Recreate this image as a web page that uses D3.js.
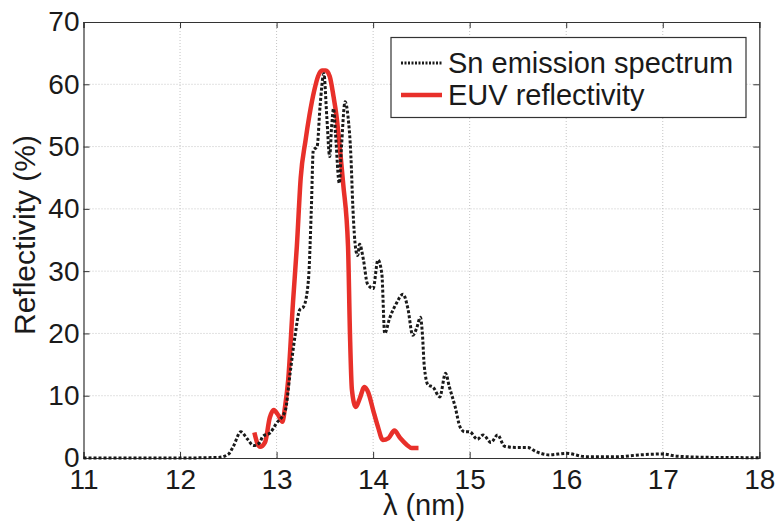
<!DOCTYPE html>
<html>
<head>
<meta charset="utf-8">
<script src="https://cdn.jsdelivr.net/npm/d3@7"></script>
<style>
  body { margin: 0; background: #fff; }
  text { font-family: "Liberation Sans", Arial, Helvetica, sans-serif; fill: #1a1a1a; }
</style>
</head>
<body>
<div id="chart"></div>
<script>
// Sn emission spectrum (dotted black), wavelength in nm / relative %
const snLambda = [11.0, 12.0, 12.4, 12.5, 12.55, 12.63, 12.7, 12.76, 12.82, 12.86, 12.93, 13.0, 13.09, 13.14, 13.19,
  13.24, 13.28, 13.33, 13.36, 13.38, 13.42, 13.45, 13.49, 13.52, 13.55, 13.57, 13.59, 13.61, 13.65, 13.67, 13.71,
  13.74, 13.77, 13.79, 13.82, 13.84, 13.86, 13.9, 13.94, 14.0, 14.05, 14.09, 14.12, 14.17, 14.24, 14.31, 14.36,
  14.41, 14.45, 14.49, 14.51, 14.53, 14.57, 14.62, 14.69, 14.75, 14.79, 14.85, 14.9, 14.95, 15.0, 15.08, 15.14,
  15.22, 15.29, 15.36, 15.47, 15.6, 15.69, 15.83, 16.0, 16.21, 16.52, 16.76, 17.0, 17.14, 17.5, 18.0];
const snValue = [0, 0, 0.1, 0.6, 1.8, 4.2, 3.0, 2.0, 2.4, 3.5, 4.0, 5.6, 7.6, 13.6, 19.5,
  23.8, 24.3, 28.6, 40, 49.4, 50, 56.4, 61.7, 54.8, 48.4, 53.2, 56.1, 52.1, 44.1, 49.4, 57.2,
  54.8, 48.4, 40.3, 33.5, 32.5, 34.3, 31.8, 28, 27.2, 31.8, 29.6, 20, 22.4, 24.8, 26.3, 24,
  19.7, 20.8, 22.6, 20, 14.7, 11.7, 11.4, 9.8, 13.6, 11.4, 8.2, 5.0, 4.2, 4.2, 3.0, 3.7,
  2.5, 3.7, 1.9, 1.7, 1.7, 1.0, 0.5, 0.75, 0.2, 0.2, 0.5, 0.65, 0.3, 0.1, 0.05];

// EUV reflectivity (solid red)
const euvLambda = [12.77, 12.8, 12.83, 12.88, 12.93, 12.97, 13.02, 13.06, 13.09, 13.12, 13.17, 13.21, 13.25, 13.3,
  13.34, 13.39, 13.43, 13.47, 13.51, 13.55, 13.59, 13.62, 13.66, 13.69, 13.74, 13.76, 13.78, 13.82, 13.86, 13.91,
  13.95, 14.0, 14.05, 14.1, 14.16, 14.22, 14.28, 14.35, 14.4, 14.47];
const euvValue = [4.1, 2.4, 1.8, 2.5, 6.5, 7.7, 6.8, 5.8, 8.5, 12.5, 25, 34, 45, 51,
  55, 59, 61.3, 62.2, 62.2, 61.3, 58, 55, 49, 44, 34, 20, 11, 8.2, 9.5, 11.4,
  10.5, 7.7, 5, 2.9, 3.2, 4.4, 3.2, 2.1, 1.6, 1.6];

const xTicks = [11, 12, 13, 14, 15, 16, 17, 18];
const yTicks = [0, 10, 20, 30, 40, 50, 60, 70];
const legendLabels = ["Sn emission spectrum", "EUV reflectivity"];

const W = 779, H = 526;
const margin = { top: 22, right: 19.7, bottom: 68, left: 83.5 };
const width = W - margin.left - margin.right;
const height = H - margin.top - margin.bottom;

const svg = d3.select("#chart").append("svg")
  .attr("width", W)
  .attr("height", H);

const g = svg.append("g")
  .attr("transform", `translate(${margin.left},${margin.top})`);

const x = d3.scaleLinear().domain([11, 18]).range([0, width]);
const y = d3.scaleLinear().domain([0, 70]).range([height, 0]);

// grid
g.append("g").selectAll("line")
  .data(xTicks.slice(1, -1))
  .join("line")
  .attr("x1", d => x(d)).attr("x2", d => x(d))
  .attr("y1", 0).attr("y2", height)
  .attr("stroke", "#c4c4c4").attr("stroke-width", 1).attr("stroke-dasharray", "1,2");
g.append("g").selectAll("line")
  .data(yTicks.slice(1, -1))
  .join("line")
  .attr("x1", 0).attr("x2", width)
  .attr("y1", d => y(d)).attr("y2", d => y(d))
  .attr("stroke", "#c4c4c4").attr("stroke-width", 1).attr("stroke-dasharray", "1,2");

// axes (ticks inside, MATLAB style)
const xAxis = g.append("g")
  .attr("transform", `translate(0,${height})`)
  .call(d3.axisBottom(x).tickValues(xTicks).tickSize(-6).tickPadding(11).tickFormat(d3.format("d")));
const yAxis = g.append("g")
  .call(d3.axisLeft(y).tickValues(yTicks).tickSize(-6).tickPadding(4));
g.append("g")
  .call(d3.axisTop(x).tickValues(xTicks).tickSize(-6).tickFormat(""));
g.append("g")
  .attr("transform", `translate(${width},0)`)
  .call(d3.axisRight(y).tickValues(yTicks).tickSize(-6).tickFormat(""));

g.selectAll(".domain").attr("stroke", "#333").attr("stroke-width", 1.2);
g.selectAll(".tick line").attr("stroke", "#333");
[xAxis, yAxis].forEach(a => a.selectAll(".tick text")
  .style("font-size", "28px")
  .style("font-family", "'Liberation Sans', Arial, sans-serif")
  .attr("fill", "#1a1a1a"));

// lines
const snData = snLambda.map((l, i) => [l, snValue[i]]);
const euvData = euvLambda.map((l, i) => [l, euvValue[i]]);

const line = d3.line()
  .x(d => x(d[0]))
  .y(d => y(d[1]))
  .curve(d3.curveMonotoneX);

g.append("path")
  .datum(euvData)
  .attr("fill", "none")
  .attr("stroke", "#e8302a")
  .attr("stroke-width", 4.5)
  .attr("stroke-linejoin", "round")
  .attr("d", line);

g.append("path")
  .datum(snData)
  .attr("fill", "none")
  .attr("stroke", "#1a1a1a")
  .attr("stroke-width", 3)
  .attr("stroke-dasharray", "3,2")
  .attr("d", line);

// axis labels
svg.append("text")
  .attr("x", 424)
  .attr("y", 515)
  .attr("text-anchor", "middle")
  .style("font-size", "29px")
  .text("λ (nm)");

svg.append("text")
  .attr("transform", "translate(35,235) rotate(-90)")
  .attr("text-anchor", "middle")
  .style("font-size", "30px")
  .text("Reflectivity (%)");

// legend
const legend = svg.append("g");
legend.append("rect")
  .attr("x", 391).attr("y", 37.5)
  .attr("width", 355).attr("height", 80)
  .attr("fill", "#fff").attr("stroke", "#333").attr("stroke-width", 1.2);

const legendY = [63, 95];
legend.append("line")
  .attr("x1", 401).attr("x2", 442)
  .attr("y1", legendY[0]).attr("y2", legendY[0])
  .attr("stroke", "#1a1a1a").attr("stroke-width", 3).attr("stroke-dasharray", "2,1.5");
legend.append("line")
  .attr("x1", 401).attr("x2", 442)
  .attr("y1", legendY[1]).attr("y2", legendY[1])
  .attr("stroke", "#e8302a").attr("stroke-width", 4.5);

legend.selectAll("text.lbl")
  .data(legendLabels)
  .join("text")
  .attr("class", "lbl")
  .attr("x", 448)
  .attr("y", (d, i) => legendY[i] + 10)
  .style("font-size", "29px")
  .text(d => d);
</script>
</body>
</html>
